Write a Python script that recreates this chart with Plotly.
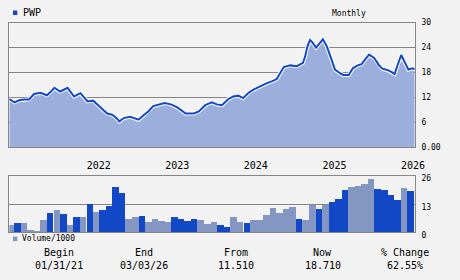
import plotly.graph_objects as go
import pandas as pd

# ---------------- data ----------------
price_dates = [
    "2021-01-06", "2021-01-30", "2021-02-21", "2021-03-16", "2021-04-08", "2021-05-01",
    "2021-05-31", "2021-06-30", "2021-07-15", "2021-08-04", "2021-08-30", "2021-09-17",
    "2021-10-04", "2021-11-03", "2021-11-18", "2021-12-03", "2022-01-05", "2022-01-31",
    "2022-02-27", "2022-04-06", "2022-04-29", "2022-05-15", "2022-06-02", "2022-06-22",
    "2022-07-22", "2022-08-30", "2022-09-21", "2022-10-14", "2022-11-06", "2022-11-29",
    "2022-12-29", "2023-01-28", "2023-02-28", "2023-04-06", "2023-05-14", "2023-06-06",
    "2023-07-06", "2023-08-05", "2023-08-29", "2023-09-21", "2023-10-22", "2023-11-13",
    "2023-12-06", "2023-12-29", "2024-01-21", "2024-02-13", "2024-03-14", "2024-04-13",
    "2024-05-13", "2024-06-02", "2024-06-20", "2024-07-05", "2024-08-04", "2024-09-04",
    "2024-10-02", "2024-10-12", "2024-10-23", "2024-11-04", "2024-11-14", "2024-12-02",
    "2025-01-03", "2025-01-21", "2025-02-10", "2025-02-28", "2025-03-23", "2025-04-07",
    "2025-05-03", "2025-05-22", "2025-06-14", "2025-07-02", "2025-07-22", "2025-08-06",
    "2025-08-29", "2025-09-21", "2025-10-06", "2025-10-29", "2025-11-21", "2025-12-02",
    "2025-12-17", "2026-01-02", "2026-01-20", "2026-02-04", "2026-02-24", "2026-03-05",
]
price_values = [
    11.6, 10.8, 11.3, 11.5, 11.5, 12.8,
    13.1, 12.5, 13.2, 14.3, 13.4, 13.8,
    14.3, 12.2, 12.7, 13.0, 11.0, 11.2,
    9.9, 8.1, 7.8, 7.2, 6.2, 7.0,
    7.3, 6.6, 7.6, 8.6, 9.9, 10.2,
    10.6, 10.3, 9.5, 8.1, 8.1, 8.6,
    10.1, 10.8, 10.3, 10.1, 11.6, 12.2,
    12.4, 11.8, 13.0, 13.8, 14.6, 15.3,
    15.9, 16.4, 18.0, 19.3, 19.7, 19.5,
    20.3, 21.8, 24.3, 25.8, 25.3, 24.0,
    26.0, 24.3, 21.4, 18.7, 17.8, 17.4,
    17.4, 19.0, 19.7, 20.0, 21.4, 22.3,
    21.5, 19.7, 18.9, 18.6, 18.0, 17.6,
    19.9, 22.2, 20.3, 18.7, 19.0, 18.71,
]

vol_months = [d.strftime("%Y-%m") for d in pd.date_range("2021-01-01", periods=62, freq="MS")]
vol_values = [
    3.8, 4.7, 4.7, 1.2, 0.7, 6.0, 9.1, 10.4, 8.6, 3.8,
    7.3, 7.3, 13.0, 9.5, 10.4, 12.1, 20.9, 18.3, 6.4, 7.3,
    7.7, 5.1, 6.4, 5.6, 5.1, 7.3, 6.4, 5.6, 6.4, 6.0,
    4.2, 5.1, 3.4, 2.9, 7.3, 5.1, 4.7, 6.0, 6.0, 8.2,
    11.2, 9.1, 10.8, 11.7, 6.4, 6.0, 12.6, 10.8, 12.6, 14.3,
    15.6, 19.6, 20.9, 21.3, 22.2, 24.8, 20.0, 19.6, 17.4, 15.2,
    20.5, 19.1,
]
vol_shade = [
    "l", "d", "l", "l", "l", "l", "d", "l", "d", "l",
    "d", "l", "d", "l", "d", "d", "d", "d", "l", "l",
    "d", "l", "l", "l", "l", "d", "d", "d", "d", "l",
    "l", "l", "d", "d", "l", "l", "d", "l", "l", "l",
    "l", "l", "l", "l", "d", "l", "l", "d", "l", "d",
    "d", "d", "l", "l", "l", "l", "d", "d", "d", "d",
    "l", "d",
]

year_ticks = ["2022-01-01", "2023-01-01", "2024-01-01", "2025-01-01", "2026-01-01"]
year_labels = ["2022", "2023", "2024", "2025", "2026"]
price_ticks = [0, 6, 12, 18, 24, 30]
price_tick_labels = ["0.00", "6", "12", "18", "24", "30"]
vol_ticks = [0, 13, 26]
vol_tick_labels = ["0", "13", "26"]

table_headers = ["Begin", "End", "From", "Now", "% Change"]
table_values = ["01/31/21", "03/03/26", "11.510", "18.710", "62.55%"]

# ---------------- style ----------------
BG = "#f2f2f2"
DARK = "#1247c6"
LIGHT = "#8497c3"
FILL = "#9cafdc"
GRID = "#868686"
MONO = "DejaVu Sans Mono"
x_range = ["2021-01-06", "2026-03-06"]

fig = go.Figure()

fig.add_trace(go.Scatter(x=price_dates, y=price_values, mode="lines", fill="tozeroy",
                         fillcolor=FILL, line=dict(width=0, color=FILL),
                         xaxis="x", yaxis="y", hoverinfo="skip"))
fig.add_trace(go.Scatter(x=price_dates, y=price_values, mode="lines",
                         line=dict(width=4, color="#ffffff"),
                         xaxis="x", yaxis="y", hoverinfo="skip"))
fig.add_trace(go.Scatter(x=price_dates, y=price_values, mode="lines",
                         line=dict(width=2, color=DARK),
                         xaxis="x", yaxis="y"))

fig.add_trace(go.Bar(x=vol_months, y=vol_values, xperiod="M1", xperiodalignment="middle",
                     width=30.4 * 86400000,
                     marker=dict(color=[DARK if s == "d" else LIGHT for s in vol_shade],
                                 line=dict(width=0)),
                     xaxis="x2", yaxis="y2"))

axis_font = dict(family=MONO, size=8, color="#000000")

fig.update_layout(
    width=460, height=280,
    margin=dict(l=0, r=0, t=0, b=0),
    paper_bgcolor=BG, plot_bgcolor=BG,
    showlegend=False,
    bargap=0,
    xaxis=dict(domain=[9.5 / 460, 424 / 460], type="date", range=x_range,
               tickvals=year_ticks, ticktext=year_labels, showgrid=False,
               ticks="", ticklabelshift=12, ticklabelstandoff=9,
               tickfont=dict(family=MONO, size=10, color="#000000"),
               showline=True, mirror=True, linecolor=GRID, linewidth=1,
               zeroline=False, anchor="y"),
    yaxis=dict(domain=[1 - 149.5 / 280, 1 - 19.5 / 280], range=[0, 30], side="right",
               tickvals=price_ticks, ticktext=price_tick_labels, tickfont=axis_font,
               showgrid=True, gridcolor=GRID, gridwidth=1, ticks="",
               ticklabelstandoff=4,
               showline=True, mirror=True, linecolor=GRID, linewidth=1,
               zeroline=False, anchor="x"),
    xaxis2=dict(domain=[9.5 / 460, 424 / 460], type="date", range=x_range,
                showticklabels=False, showgrid=False, ticks="",
                showline=True, mirror=True, linecolor=GRID, linewidth=1,
                zeroline=False, anchor="y2"),
    yaxis2=dict(domain=[1 - 238.7 / 280, 1 - 179.3 / 280], range=[0, 26], side="right",
                tickvals=vol_ticks, ticktext=vol_tick_labels, tickfont=axis_font,
                showgrid=True, gridcolor=GRID, gridwidth=1, ticks="",
                ticklabelstandoff=4, ticklabelshift=3,
                showline=True, mirror=True, linecolor=GRID, linewidth=1,
                zeroline=False, anchor="x2"),
)

# legend squares
fig.add_shape(type="rect", xref="paper", yref="paper",
              x0=13.3 / 460, x1=17.7 / 460, y0=1 - 11.5 / 280, y1=1 - 6.8 / 280,
              fillcolor=DARK, line=dict(width=0))
fig.add_shape(type="rect", xref="paper", yref="paper",
              x0=13.3 / 460, x1=17.7 / 460, y0=1 - 247.8 / 280, y1=1 - 243.0 / 280,
              fillcolor=LIGHT, line=dict(width=0))

fig.add_annotation(text="PWP", xref="paper", yref="paper", x=21.5 / 460, y=1 - 9.2 / 280,
                   xanchor="left", yanchor="middle", showarrow=False,
                   font=dict(family=MONO, size=10, color="#000000"))
fig.add_annotation(text="Monthly", xref="paper", yref="paper", x=356.7 / 460, y=1 - 9.5 / 280,
                   xanchor="center", yanchor="middle", showarrow=False,
                   font=dict(family=MONO, size=8, color="#000000"))
fig.add_annotation(text="Volume/1000", xref="paper", yref="paper", x=20.2 / 460, y=1 - 245.3 / 280,
                   xanchor="left", yanchor="middle", showarrow=False,
                   font=dict(family=MONO, size=8, color="#000000"))

table_x = [60, 147, 241, 330, 414]
for cx, h, v in zip(table_x, table_headers, table_values):
    fig.add_annotation(text=h, xref="paper", yref="paper", x=cx / 460, y=1 - 259.3 / 280,
                       xanchor="center", yanchor="middle", showarrow=False,
                       font=dict(family=MONO, size=10, color="#000000"))
    fig.add_annotation(text=v, xref="paper", yref="paper", x=cx / 460, y=1 - 272.7 / 280,
                       xanchor="center", yanchor="middle", showarrow=False,
                       font=dict(family=MONO, size=10, color="#000000"))

fig.write_html("out.html")
